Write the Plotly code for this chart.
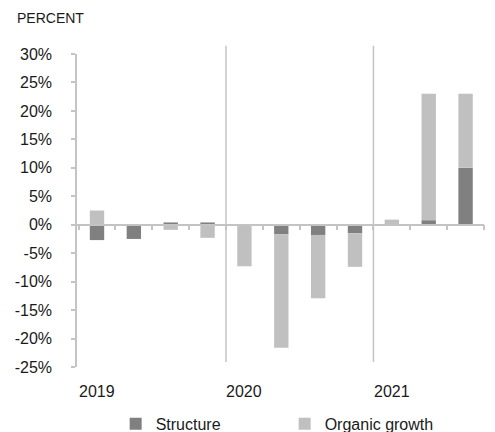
import plotly.graph_objects as go

# quarters 2019 Q1 .. 2021 Q3
quarters = ["2019 Q1", "2019 Q2", "2019 Q3", "2019 Q4",
            "2020 Q1", "2020 Q2", "2020 Q3", "2020 Q4",
            "2021 Q1", "2021 Q2", "2021 Q3"]
structure = [-2.7, -2.5, 0.4, 0.4, 0.0, -1.7, -1.8, -1.5, 0.0, 0.8, 10.0]
organic = [2.5, 0.0, -0.9, -2.3, -7.3, -19.9, -11.1, -5.9, 0.9, 22.2, 13.0]
y_ticks = list(range(-25, 31, 5))
y_range = [-25, 30]

font = "Liberation Sans, Arial, sans-serif"
dark = "#808080"
light = "#c0c0c0"
axis_col = "#c4c4c4"

fig = go.Figure()
fig.add_trace(go.Bar(x=quarters, y=structure, name="Structure",
                     marker=dict(color=dark, line=dict(width=0)), width=0.39))
fig.add_trace(go.Bar(x=quarters, y=organic, name="Organic growth",
                     marker=dict(color=light, line=dict(width=0)), width=0.39))

# year labels under the first quarter of each year, separators between years
years = [q.split()[0] for q in quarters]
first_idx = [i for i, y in enumerate(years) if i == 0 or years[i - 1] != y]
for i in first_idx:
    fig.add_annotation(x=quarters[i], y=-0.078, xref="x", yref="paper",
                       text=years[i], showarrow=False, yanchor="middle",
                       font=dict(size=16, color="#1a1a1a", family=font))
for i in first_idx[1:]:
    fig.add_shape(type="line", xref="x", yref="paper", x0=i - 0.5, x1=i - 0.5,
                  y0=0.016, y1=1.026, line=dict(color=axis_col, width=1.5), layer="below")

zero_pos = (0 - y_range[0]) / (y_range[1] - y_range[0])

fig.add_annotation(text="PERCENT", x=-0.152, y=1.115, xref="paper", yref="paper",
                   xanchor="left", yanchor="middle", showarrow=False,
                   font=dict(size=14, color="#1a1a1a", family=font))

# page has an 8px body margin, so the figure is 8px smaller than the window
fig.update_layout(
    width=487, height=424,
    margin=dict(l=69, r=11, t=46, b=65, autoexpand=False),
    barmode="relative",
    plot_bgcolor="white", paper_bgcolor="white",
    font=dict(family=font, size=16, color="#1a1a1a"),
    showlegend=True,
    legend=dict(orientation="h", x=0.095, xanchor="left",
                yref="container", y=0.019, yanchor="middle",
                entrywidth=124, entrywidthmode="pixels",
                font=dict(size=16, color="#1a1a1a", family=font)),
    xaxis=dict(type="category", anchor="free", position=zero_pos,
               showline=True, linecolor=axis_col, linewidth=1.5,
               ticks="outside", tickson="boundaries", ticklen=5, tickcolor=axis_col,
               tickwidth=1.5, automargin=False,
               showticklabels=False, showgrid=False, zeroline=False),
    yaxis=dict(range=y_range, tickvals=y_ticks, ticktext=[f"{v}%" for v in y_ticks],
               showline=True, linecolor=axis_col, linewidth=1.5,
               ticks="outside", ticklen=4, tickcolor=axis_col, tickwidth=1.5,
               ticklabelstandoff=16, automargin=False,
               showgrid=False, zeroline=False,
               tickfont=dict(size=16, color="#1a1a1a", family=font)),
)

fig.write_html("out.html")
